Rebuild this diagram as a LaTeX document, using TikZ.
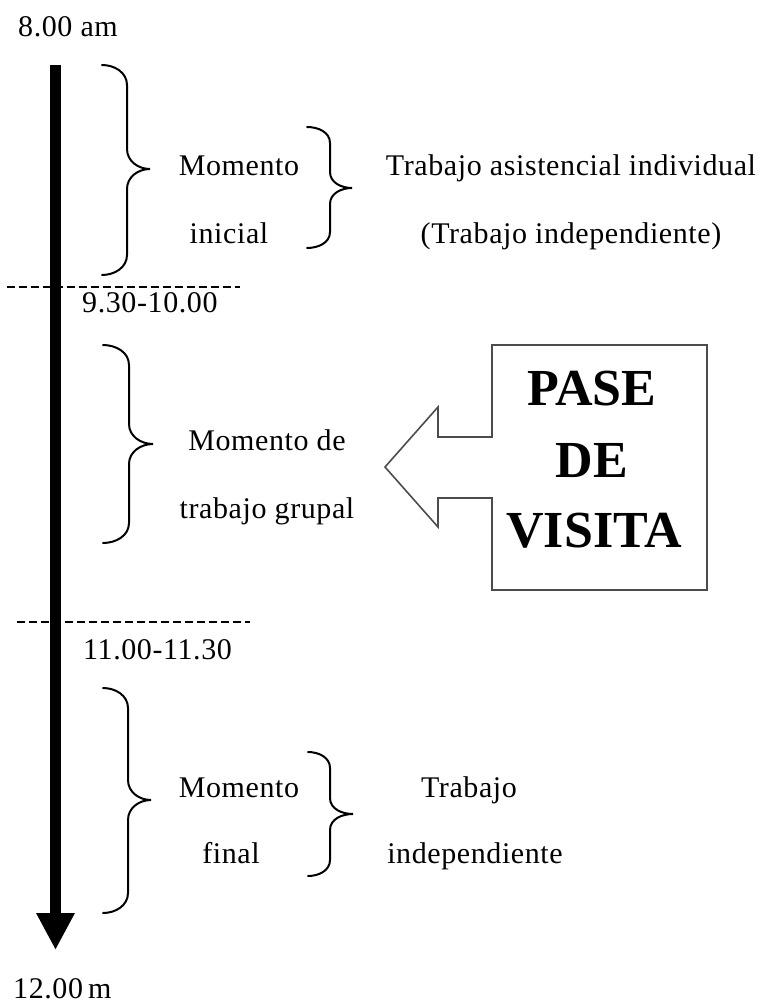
\documentclass[tikz,border=0pt]{standalone}
\usepackage{fontspec}
\setmainfont{Liberation Serif}[LetterSpace=2]
\newfontfamily\pasefont{Liberation Serif}[UprightFont={* Bold}]
\usetikzlibrary{arrows.meta}
\begin{document}
\begin{tikzpicture}[x=1pt,y=-1pt,
  txt/.style={inner sep=0pt, anchor=base, font=\fontsize{30}{36}\selectfont},
  txtl/.style={txt, anchor=base west},
  big/.style={inner sep=0pt, anchor=base, font=\fontsize{52}{60}\pasefont},
  timeline/.style={line width=11pt, -{Triangle[width=36pt,length=37pt]}},
  sep/.style={line width=1.3pt, dash pattern=on 8pt off 4pt},
  bracestyle/.style={line width=2pt, line cap=round},
  callout/.style={line width=1.6pt, draw=black!70, line join=miter}]
\useasboundingbox (0,0) rectangle (763,1006);

% timeline
\coordinate (tltop) at (55.5,65);
\coordinate (tlend) at (55.5,950);
\draw[timeline] (tltop) -- (tlend);

% time labels
\node[txtl] (t8) at (18,37) {8.00 am};
\node[txtl] (t930) at (82,312) {9.30-10.00};
\node[txtl] (t11) at (83,659) {11.00-11.30};
\node[txtl] (t12) at (13,998) {12.00\,m};

% dashed separators
\coordinate (d1a) at (7,287);   \coordinate (d1b) at (240,287);
\coordinate (d2a) at (17,622);  \coordinate (d2b) at (250,622);
\draw[sep] (d1a) -- (d1b);
\draw[sep] (d2a) -- (d2b);

% braces: (x0,xm,xt,ytop,ymid,ybot,r)
\newcommand\mybrace[7]{%
  \draw[bracestyle] (#1,#4) to[out=0,in=90] (#2,#4+#7) -- (#2,#5-#7)
    to[out=-90,in=180] (#3,#5) to[out=180,in=90] (#2,#5+#7) -- (#2,#6-#7)
    to[out=-90,in=0] (#1,#6);}
\mybrace{102}{127}{150}{65}{169}{275}{20}
\mybrace{307}{330}{352}{127}{188}{248}{16}
\mybrace{103}{129}{153}{345}{444}{543}{20}
\mybrace{103}{128}{151}{688}{800}{913}{20}
\mybrace{308}{330}{353}{752}{814}{876}{16}

% texts
\node[txt] (mi1) at (239,175) {Momento};
\node[txt] (mi2) at (229,243) {inicial};
\node[txt] (ta1) at (571,175) {Trabajo asistencial individual};
\node[txt] (ta2) at (571,243) {(Trabajo independiente)};

\node[txt] (mg1) at (267,450) {Momento de};
\node[txt] (mg2) at (267,518) {trabajo grupal};

\node[txt] (mf1) at (239,797) {Momento};
\node[txt] (mf2) at (231,863) {final};
\node[txt] (tf1) at (469,797) {Trabajo};
\node[txt] (tf2) at (475,863) {independiente};

% callout
\draw[callout] (492,345) -- (707,345) -- (707,590) -- (492,590) -- (492,498)
  -- (438,498) -- (438,527) -- (385,467) -- (438,407) -- (438,437)
  -- (492,437) -- cycle;
\node[big] (p1) at (592,405) {PASE};
\node[big] (p2) at (592,477) {DE};
\node[big] (p3) at (594,547) {VISITA};
\end{tikzpicture}
\end{document}
